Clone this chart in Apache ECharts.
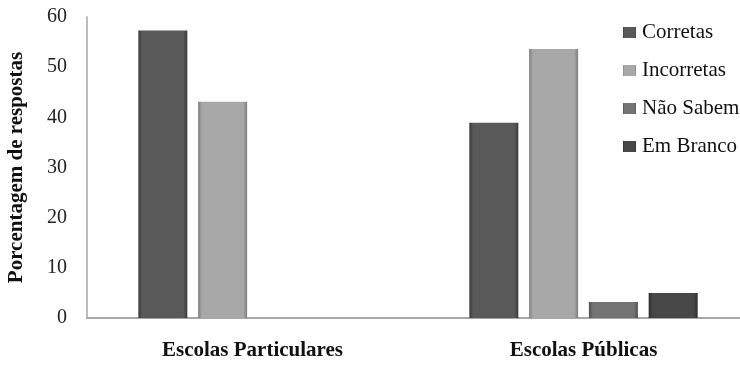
<!DOCTYPE html>
<html>
<head>
<meta charset="utf-8">
<script src="https://cdn.jsdelivr.net/npm/echarts@6/dist/echarts.min.js"></script>
<style>
  body { margin: 0; background: #fff; }
  #chart { width: 740px; height: 365px; }
</style>
</head>
<body>
<div id="chart"></div>
<script>
// dados
var categorias = ['Escolas Particulares', 'Escolas Públicas'];
var corretas = [57.3, 38.9];
var incorretas = [43.1, 53.6];
var naoSabem = [0, 3.2];
var emBranco = [0, 5.0];
var ticksY = [0, 10, 20, 30, 40, 50, 60];

// gradiente horizontal p/ imitar o bisel do Excel
function bisel(c, borda) {
  return new echarts.graphic.LinearGradient(0, 0, 1, 0, [
    { offset: 0, color: borda },
    { offset: 0.08, color: c },
    { offset: 0.92, color: c },
    { offset: 1, color: borda }
  ]);
}

var serif = '"Liberation Serif", "DejaVu Serif", serif';

var chart = echarts.init(document.getElementById('chart'));
chart.setOption({
  animation: false,
  grid: { left: 87, top: 17, width: 662, bottom: 47, outerBoundsMode: 'none' },
  legend: {
    orient: 'vertical',
    left: 618,
    top: 17,
    itemWidth: 13,
    itemHeight: 11,
    itemGap: 17,
    icon: 'rect',
    textStyle: { fontFamily: serif, fontSize: 21, color: '#111', padding: [0, 0, 0, 1] },
    data: ['Corretas', 'Incorretas', 'Não Sabem', 'Em Branco']
  },
  xAxis: {
    type: 'category',
    data: categorias,
    axisLine: { lineStyle: { color: '#a6a6a6', width: 2 } },
    axisTick: { show: false },
    axisLabel: {
      margin: 22,
      fontFamily: serif,
      fontSize: 21,
      fontWeight: 'bold',
      color: '#111'
    }
  },
  yAxis: {
    type: 'value',
    min: ticksY[0],
    max: ticksY[ticksY.length - 1],
    interval: 10,
    name: 'Porcentagem de respostas',
    nameLocation: 'middle',
    nameGap: 60,
    nameTextStyle: { fontFamily: serif, fontSize: 21, fontWeight: 'bold', color: '#111' },
    axisLine: { show: true, lineStyle: { color: '#a6a6a6', width: 1.5 } },
    axisTick: { show: false },
    splitLine: { show: false },
    axisLabel: { margin: 20, fontFamily: serif, fontSize: 20, color: '#222' }
  },
  series: [
    { name: 'Corretas', type: 'bar', data: corretas, barWidth: 49, barGap: '22%',
      itemStyle: { color: bisel('#595959', '#3a3a3a') } },
    { name: 'Incorretas', type: 'bar', data: incorretas, barWidth: 49,
      itemStyle: { color: bisel('#a8a8a8', '#7e7e7e') } },
    { name: 'Não Sabem', type: 'bar', data: naoSabem, barWidth: 49,
      itemStyle: { color: bisel('#737373', '#4e4e4e') } },
    { name: 'Em Branco', type: 'bar', data: emBranco, barWidth: 49,
      itemStyle: { color: bisel('#474747', '#2c2c2c') } }
  ]
});
</script>
</body>
</html>
